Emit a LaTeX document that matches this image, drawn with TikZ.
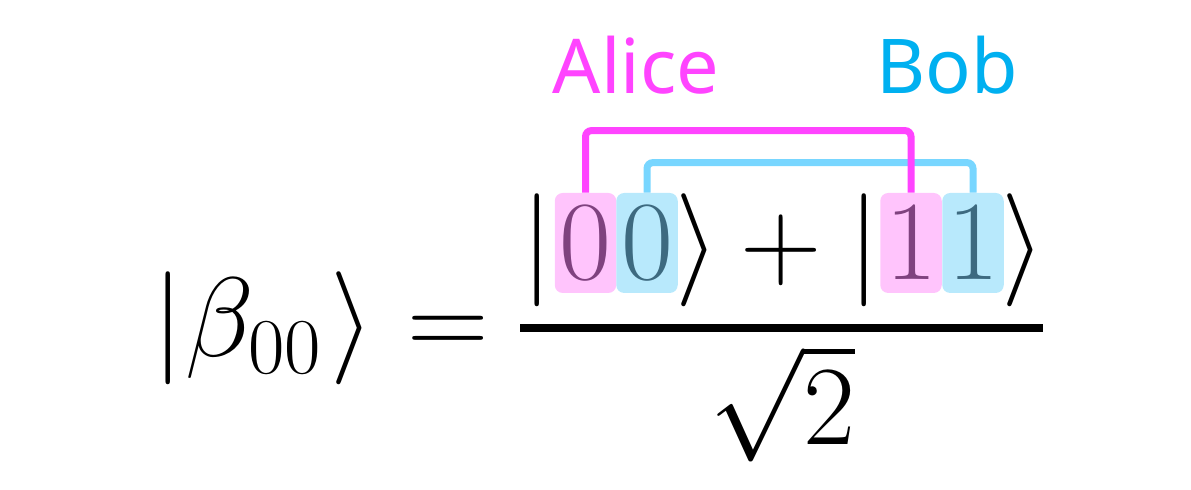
\RequirePackage{fix-cm}
\documentclass[tikz,border=0pt]{standalone}
\usepackage{fontspec}
\newfontfamily\labelfont{Noto Sans}
\definecolor{alicec}{HTML}{FF44FF}
\definecolor{bobc}{HTML}{00B0F0}
\definecolor{bobline}{HTML}{78D6FF}
\definecolor{pinkbox}{HTML}{FFC4FC}
\definecolor{cyanbox}{HTML}{B8E9FC}
\definecolor{pinkdigit}{HTML}{7F427F}
\definecolor{cyandigit}{HTML}{3D6A80}
\tikzset{
  eq/.style={inner sep=0pt, font=\fontsize{56.5}{68}\selectfont},
  eqb/.style={eq, anchor=base},
  digitbox/.style={eq, rounded corners=4pt, minimum width=30.75pt, minimum height=50pt},
  alicebox/.style={digitbox, fill=pinkbox, text=pinkdigit},
  bobbox/.style={digitbox, fill=cyanbox, text=cyandigit},
  namelabel/.style={inner sep=0pt, anchor=base, font=\labelfont\fontsize{37.8}{44}\selectfont},
  aliceline/.style={draw=alicec, line width=3.5pt, rounded corners=3pt},
  bobline/.style={draw=bobline, line width=3.5pt, rounded corners=3pt},
}
\begin{document}
\begin{tikzpicture}[x=0.5pt, y=-0.5pt]
\path[use as bounding box] (0,0) rectangle (1191,490);
% left-hand side
\node[eqb] (lbar) at (168,357) {$|$};
\node[eqb] (beta) at (254,357) {$\beta_{00}$};
\node[eqb] (lket) at (352,357) {$\rangle$};
\node[eqb] (equals) at (448,357) {$=$};
% numerator
\node[eqb] (bar1) at (537,279) {$|$};
\node[alicebox] (b1) at (585.5,243) {$0$};
\node[bobbox] (b2) at (647,243) {$0$};
\node[eqb] (ket1) at (697,279) {$\rangle$};
\node[eqb] (plus) at (781,279) {$+$};
\node[eqb] (bar2) at (864,279) {$|$};
\node[alicebox] (b3) at (911,243) {$1$};
\node[bobbox] (b4) at (973,243) {$1$};
\node[eqb] (ket2) at (1023,279) {$\rangle$};
% fraction bar
\draw[line width=4pt] (520,328) -- (1043,328);
% denominator
\node[eqb] (den) at (782,445) {$\sqrt{2}$};
% labels
\node[namelabel, text=alicec] (alice) at (636,94) {Alice};
\node[namelabel, text=bobc] (bob) at (947,94) {Bob};
% brackets
\draw[bobline] (b2.north) -- ++(0,-30) -| (b4.north);
\draw[aliceline] (b1.north) -- ++(0,-62) -| (b3.north);
\end{tikzpicture}
\end{document}
